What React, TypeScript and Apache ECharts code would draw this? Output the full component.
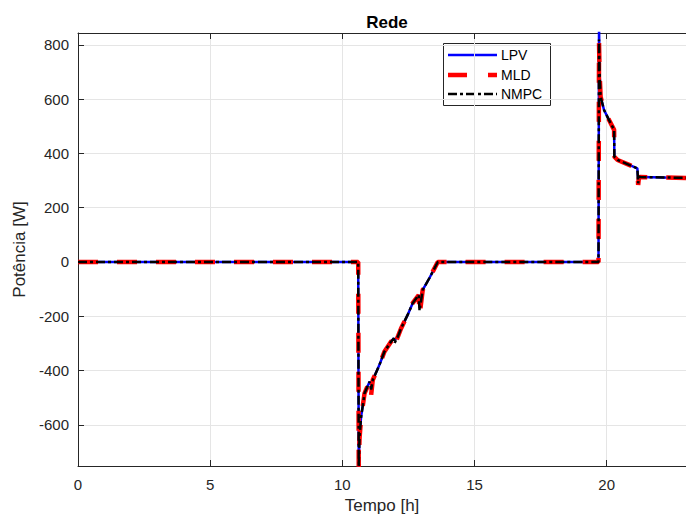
import React, { useEffect, useRef } from "react";
import * as echarts from "echarts";

const timeH = [0, 10.6, 10.62, 10.65, 10.71, 10.84, 11.03, 11.09, 11.15, 11.4, 11.59, 11.84, 11.95, 11.97, 12.1, 12.22, 12.47, 12.66, 12.89, 12.92, 13.04, 13.29, 13.61, 19.69, 19.71, 19.73, 19.77, 19.9, 20.09, 20.28, 20.29, 20.41, 20.85, 21.16, 21.19, 21.22, 21.28, 23];
const lpv = [0, 0, -755, -640, -570, -484, -441, -452, -435, -380, -331, -294, -281, -288, -275, -245, -195, -152, -122, -140, -103, -60, 0, 0, 880, 700, 609, 560, 523, 487, 388, 376, 358, 345, 300, 315, 313, 310];
const mld = [0, 0, -755, -650, -575, -484, -441, -490, -435, -380, -331, -294, -281, -312, -275, -245, -195, -152, -122, -198, -103, -60, 0, 0, 807, 700, 609, 560, 523, 487, 388, 376, 358, 345, 284, 312, 313, 310];
const nmpc = [0, 0, -755, -645, -572, -484, -441, -470, -435, -380, -331, -294, -281, -300, -275, -245, -195, -152, -122, -180, -103, -60, 0, 0, 820, 700, 609, 560, 523, 487, 388, 376, 358, 345, 290, 314, 313, 310];

const seriesNames = ["LPV", "MLD", "NMPC"];
const yTicks = [-600, -400, -200, 0, 200, 400, 600, 800];

const axisColor = "#262626";
const gridColor = "#e5e5e5";
const font = "'Liberation Sans', Arial, Helvetica, sans-serif";

function pairs(vals: number[]) {
  return timeH.map((t, i) => [t, vals[i]]);
}

export default function App() {
  const ref = useRef<HTMLDivElement>(null);
  useEffect(() => {
    if (!ref.current) return;
    const chart = echarts.init(ref.current, undefined, { renderer: "svg" });
    const lx0 = 448, lx1 = 497, ltx = 501;
    const ly = [55, 75, 94];
    chart.setOption({
      animation: false,
      backgroundColor: "#ffffff",
      textStyle: { fontFamily: font },
      title: {
        text: "Rede",
        left: 382,
        textAlign: "center",
        top: 9,
        textStyle: { fontSize: 17, fontWeight: "bold", color: "#000", fontFamily: font },
      },
      grid: { left: 78, right: 0, top: 33, bottom: 55, containLabel: false },
      xAxis: [
        {
          type: "value",
          min: 0,
          max: 23,
          interval: 5,
          name: "Tempo [h]",
          nameLocation: "middle",
          nameGap: 31,
          nameTextStyle: { fontSize: 17, color: axisColor, fontFamily: font },
          axisLine: { show: true, onZero: false, lineStyle: { color: axisColor, width: 1 } },
          axisTick: { show: true, inside: true, length: 6, lineStyle: { color: axisColor } },
          axisLabel: { fontSize: 15, color: axisColor, margin: 11, fontFamily: font, showMaxLabel: false },
          splitLine: { show: true, lineStyle: { color: gridColor, width: 1 } },
        },
        {
          type: "value",
          position: "top",
          min: 0,
          max: 23,
          interval: 5,
          axisLine: { show: true, onZero: false, lineStyle: { color: axisColor, width: 1 } },
          axisTick: { show: true, inside: true, length: 6, lineStyle: { color: axisColor } },
          axisLabel: { show: false },
          splitLine: { show: false },
        },
      ],
      yAxis: {
        type: "value",
        min: -752,
        max: 844,
        name: "Potência [W]",
        nameLocation: "middle",
        nameGap: 48,
        nameTextStyle: { fontSize: 17, color: axisColor, fontFamily: font },
        axisLine: { show: true, onZero: false, lineStyle: { color: axisColor, width: 1 } },
        axisTick: { show: true, inside: true, length: 6, lineStyle: { color: axisColor }, customValues: yTicks },
        axisLabel: { fontSize: 15, color: axisColor, margin: 9, fontFamily: font, customValues: yTicks },
        splitLine: { show: true, lineStyle: { color: gridColor, width: 1 } },
      },
      series: [
        {
          name: seriesNames[0],
          type: "line",
          data: pairs(lpv),
          showSymbol: false,
          symbol: "none",
          lineStyle: { color: "#0000ff", width: 2.5 },
          z: 2,
        },
        {
          name: seriesNames[1],
          type: "line",
          data: pairs(mld),
          showSymbol: false,
          symbol: "none",
          lineStyle: { color: "#ff0000", width: 4.5, type: [20, 19] },
          z: 3,
        },
        {
          name: seriesNames[2],
          type: "line",
          data: pairs(nmpc),
          showSymbol: false,
          symbol: "none",
          lineStyle: { color: "#000000", width: 2.5, type: [9, 3, 3, 3] },
          z: 4,
        },
      ],
      graphic: [
        {
          type: "group",
          z: 100,
          children: [
            {
              type: "rect",
              shape: { x: 443.5, y: 43.5, width: 107, height: 62 },
              style: { fill: "#ffffff", stroke: axisColor, lineWidth: 1 },
            },
            {
              type: "line",
              shape: { x1: lx0, y1: ly[0], x2: lx1, y2: ly[0] },
              style: { stroke: "#0000ff", lineWidth: 2.5 },
            },
            {
              type: "line",
              shape: { x1: lx0, y1: ly[1], x2: lx1, y2: ly[1] },
              style: { stroke: "#ff0000", lineWidth: 4.5, lineDash: [19, 21] },
            },
            {
              type: "line",
              shape: { x1: lx0, y1: ly[2], x2: lx1, y2: ly[2] },
              style: { stroke: "#000000", lineWidth: 2.5, lineDash: [9, 3, 3, 3] },
            },
            ...seriesNames.map((n, i) => ({
              type: "text",
              x: ltx,
              y: ly[i],
              style: { text: n, fontSize: 14, fill: "#000", fontFamily: font, verticalAlign: "middle", align: "left" },
            })),
          ],
        },
      ],
    });
    return () => chart.dispose();
  }, []);
  return <div ref={ref} style={{ position: "fixed", left: 0, top: 0, width: 686, height: 521 }} />;
}
